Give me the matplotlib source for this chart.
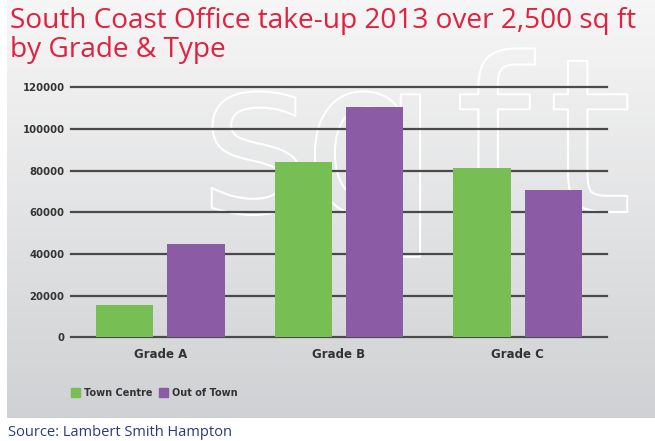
import matplotlib
matplotlib.use("Agg")
import matplotlib.pyplot as plt
import numpy as np
from matplotlib.patches import Patch
import matplotlib.patheffects as pe

categories = ["Grade A", "Grade B", "Grade C"]
series_names = ["Town Centre", "Out of Town"]
town_centre = [15500, 84000, 81200]
out_of_town = [45000, 110700, 70700]
yticks = [0, 20000, 40000, 60000, 80000, 100000, 120000]

title_line1 = "South Coast Office take-up 2013 over 2,500 sq ft"
title_line2 = "by Grade & Type"
source = "Source: Lambert Smith Hampton"
watermark = "sqft"

W, H = 655, 441
fig = plt.figure(figsize=(W / 100, H / 100), dpi=100)
fig.patch.set_facecolor("white")

# gradient panel background
bg = fig.add_axes([7 / W, 1 - 418 / H, (W - 7) / W, 418 / H])
grad = np.linspace(0, 1, 256).reshape(-1, 1)
top = np.array([0.965, 0.965, 0.965])
bot = np.array([0.815, 0.82, 0.83])
img = top + (bot - top) * grad[..., None]
bg.imshow(img, aspect="auto", extent=[0, 1, 0, 1], origin="upper")
bg.set_axis_off()

# watermark letters (decorative outline text)
letter_x = [200, 303, 455, 548]
for ch, lx in zip(watermark, letter_x):
    bg.text(lx / W, 1 - 212 / H, ch, fontsize=155, color="none", family="DejaVu Sans",
            va="baseline", ha="left", transform=fig.transFigure, clip_on=False,
            path_effects=[pe.withStroke(linewidth=1.5, foreground="white")])

ax = fig.add_axes([71 / W, 1 - 337.3 / H, (607 - 71) / W, (337.3 - 87.3) / H])
ax.set_facecolor("none")
x = np.arange(len(categories))
bw = 0.32
off = 0.2
green = "#77bf55"
purple = "#8b5ca5"
ax.bar(x - off, town_centre, bw, color=green, zorder=3)
ax.bar(x + off, out_of_town, bw, color=purple, zorder=3)

ax.set_xlim(-0.5, 2.5)
ax.set_ylim(0, 120000)
ax.set_yticks(yticks)
ax.set_yticklabels([str(v) for v in yticks], fontsize=7.3, color="#333333", fontweight="bold")
ax.set_xticks(x)
ax.set_xticklabels(categories, fontsize=8.5, color="#333333", fontweight="bold")
for v in yticks:
    ax.axhline(v, color="#4a4a4a", lw=1.6, zorder=2, clip_on=False)
ax.tick_params(axis="y", length=0, pad=4.5)
ax.tick_params(axis="x", length=0, pad=8)
for s in ax.spines.values():
    s.set_visible(False)

handles = [Patch(color=green), Patch(color=purple)]
fig.legend(handles, series_names, loc="center left", bbox_to_anchor=(62 / W, 1 - 393 / H),
           ncol=2, frameon=False, handlelength=1.0, handleheight=1.0, handletextpad=0.4,
           columnspacing=0.6, prop={"size": 7, "weight": "bold"}, labelcolor="#333333")

fig.text(10 / W, 1 - 28 / H, title_line1, fontsize=20.2, color="#e2203f", family="Open Sans",
         va="baseline", ha="left")
fig.text(10 / W, 1 - 57 / H, title_line2, fontsize=20.2, color="#e2203f", family="Open Sans",
         va="baseline", ha="left")
fig.text(8 / W, 1 - 432 / H, source, fontsize=10.5, color="#2b3a7e", family="Open Sans",
         va="center", ha="left")

fig.savefig("out.png", dpi=100)
